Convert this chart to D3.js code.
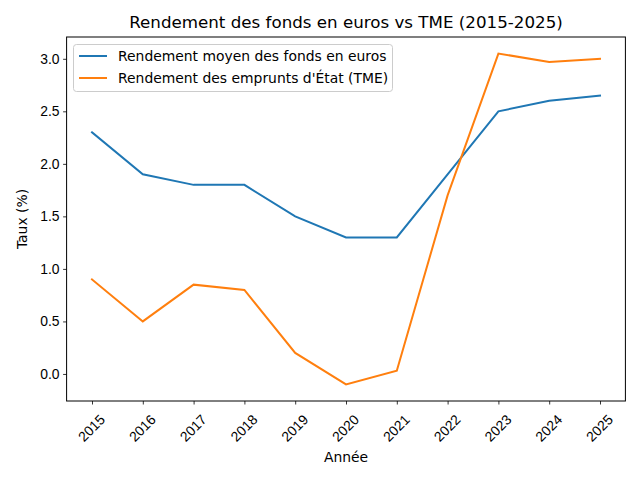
<!DOCTYPE html>
<html>
<head>
<meta charset="utf-8">
<script src="https://cdn.jsdelivr.net/npm/d3@7"></script>
<style>
  body { margin: 0; background: #fff; }
  svg { font-family: "DejaVu Sans", sans-serif; }
</style>
</head>
<body>
<svg id="viewport" width="640" height="480"></svg>
<script>
// data
const years = [2015, 2016, 2017, 2018, 2019, 2020, 2021, 2022, 2023, 2024, 2025];
const fondsEuros = [2.3, 1.9, 1.8, 1.8, 1.5, 1.3, 1.3, 1.9, 2.5, 2.6, 2.65];
const tme = [0.9, 0.5, 0.85, 0.8, 0.2, -0.1, 0.03, 1.7, 3.05, 2.97, 3.0];
const yTicks = [0.0, 0.5, 1.0, 1.5, 2.0, 2.5, 3.0];
const seriesNames = ['Rendement moyen des fonds en euros', "Rendement des emprunts d'État (TME)"];
const colours = ['#1f77b4', '#ff7f0e'];

const margin = { left: 66.6, right: 14.6, top: 37, bottom: 79 };
const width = 640;
const height = 480;

const svg = d3.select('#viewport');

// matplotlib-like 5% padding on both axes
const xPad = (d3.max(years) - d3.min(years)) * 0.05;
const allVals = fondsEuros.concat(tme);
const yMin = d3.min(allVals);
const yMax = d3.max(allVals);
const yPad = (yMax - yMin) * 0.05;

const x = d3.scaleLinear()
  .domain([d3.min(years) - xPad, d3.max(years) + xPad])
  .range([margin.left, width - margin.right]);
const y = d3.scaleLinear()
  .domain([yMin - yPad, yMax + yPad])
  .range([height - margin.bottom, margin.top]);

// x axis
const xAxis = svg.append('g')
  .attr('transform', `translate(0,${height - margin.bottom})`)
  .call(d3.axisBottom(x).tickValues(years).tickFormat(d3.format('d')).tickSizeOuter(0).tickSize(3.5).tickPadding(3.5));
xAxis.select('.domain').remove();
xAxis.selectAll('line').attr('stroke', '#000').attr('stroke-width', 0.8);
xAxis.selectAll('text')
  .attr('font-size', 13.9)
  .attr('fill', '#000')
  .attr('text-anchor', 'middle')
  .attr('dominant-baseline', 'central')
  .attr('dy', null)
  .attr('y', 0)
  .attr('transform', 'translate(-1,27) rotate(-45)');

// y axis
const yAxis = svg.append('g')
  .attr('transform', `translate(${margin.left},0)`)
  .call(d3.axisLeft(y).tickValues(yTicks).tickFormat(d3.format('.1f')).tickSizeOuter(0).tickSize(3.5).tickPadding(3.5));
yAxis.select('.domain').remove();
yAxis.selectAll('line').attr('stroke', '#000').attr('stroke-width', 0.8);
yAxis.selectAll('text').attr('font-size', 13.9).attr('fill', '#000');

// lines
const line = d3.line()
  .x((d, i) => x(years[i]))
  .y((d) => y(d));

[fondsEuros, tme].forEach((s, k) => {
  svg.append('path')
    .datum(s)
    .attr('d', line)
    .attr('fill', 'none')
    .attr('stroke', colours[k])
    .attr('stroke-width', 2)
    .attr('stroke-linecap', 'square');
});

// frame
svg.append('rect')
  .attr('x', margin.left)
  .attr('y', margin.top)
  .attr('width', width - margin.left - margin.right)
  .attr('height', height - margin.top - margin.bottom)
  .attr('fill', 'none')
  .attr('stroke', '#000')
  .attr('stroke-width', 1);

// title and axis labels
svg.append('text')
  .attr('x', (margin.left + width - margin.right) / 2)
  .attr('y', 28)
  .attr('text-anchor', 'middle')
  .attr('font-size', 16.7)
  .text('Rendement des fonds en euros vs TME (2015-2025)');
svg.append('text')
  .attr('x', (margin.left + width - margin.right) / 2)
  .attr('y', 462)
  .attr('text-anchor', 'middle')
  .attr('font-size', 13.9)
  .text('Année');
svg.append('text')
  .attr('transform', `translate(27,${(margin.top + height - margin.bottom) / 2}) rotate(-90)`)
  .attr('text-anchor', 'middle')
  .attr('font-size', 13.9)
  .text('Taux (%)');

// legend
const legend = svg.append('g').attr('class', 'legend');
legend.append('rect')
  .attr('x', 73.5)
  .attr('y', 44.5)
  .attr('width', 319)
  .attr('height', 47)
  .attr('rx', 3)
  .attr('fill', '#fff')
  .attr('fill-opacity', 0.8)
  .attr('stroke', '#ccc')
  .attr('stroke-width', 1);
seriesNames.forEach((name, i) => {
  const item = legend.append('g')
    .attr('transform', `translate(0,${56 + i * 22})`);
  item.append('line')
    .attr('x1', 79).attr('x2', 107)
    .attr('stroke', colours[i])
    .attr('stroke-width', 2);
  item.append('text')
    .attr('x', 118)
    .attr('y', 5)
    .attr('font-size', 13.9)
    .text(name);
});
</script>
</body>
</html>
